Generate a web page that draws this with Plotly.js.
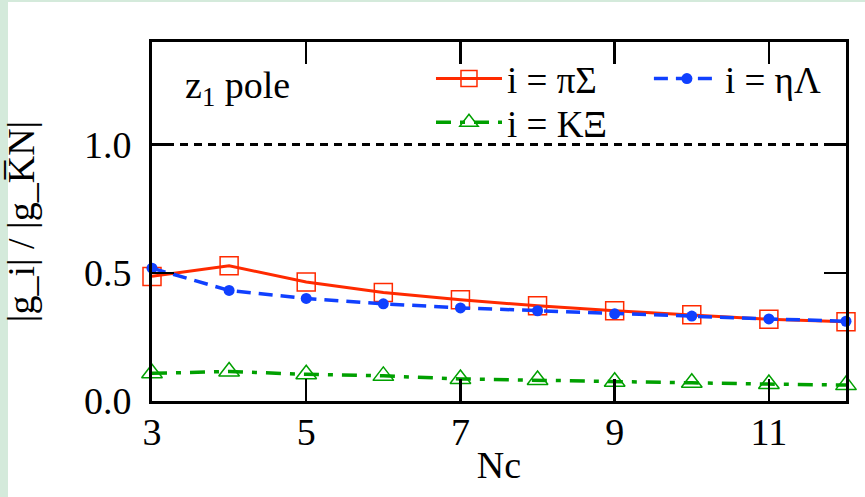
<!DOCTYPE html>
<html>
<head>
<meta charset="utf-8">
<script src="https://cdn.plot.ly/plotly-3.0.1.min.js"></script>
<style>
html,body{margin:0;padding:0;background:#ffffff;}
#stripL{position:absolute;left:0;top:0;width:8px;height:497px;background:#d4eadb;}
#stripT{position:absolute;left:0;top:0;width:865px;height:2px;background:#d4eadb;}
#chart{position:absolute;left:0;top:0;width:865px;height:497px;}
</style>
</head>
<body>
<div id="stripL"></div>
<div id="stripT"></div>
<div id="chart"></div>
<script>
// Data
const Nc = [3, 4, 5, 6, 7, 8, 9, 10, 11, 12];
const piSigma = [0.486, 0.527, 0.464, 0.423, 0.395, 0.371, 0.352, 0.336, 0.319, 0.309];
const etaLambda = [0.518, 0.431, 0.400, 0.379, 0.363, 0.352, 0.340, 0.331, 0.320, 0.311];
const KXi = [0.108, 0.115, 0.104, 0.098, 0.086, 0.082, 0.075, 0.071, 0.066, 0.062];
const xTickVals = [3, 5, 7, 9, 11];
const yTickVals = [0.0, 0.5, 1.0];
const refLevel = 1.0;
const names = ['i = πΣ', 'i = ηΛ', 'i = KΞ'];

const FONT = '"Liberation Serif", "Times New Roman", Times, serif';

const traces = [
  {
    x: Nc, y: piSigma, name: names[0], mode: 'lines+markers', legend: 'legend',
    line: {color: '#ff2a00', width: 3},
    marker: {symbol: 'square-open', size: 18, color: '#ff2a00', line: {width: 1.5}},
    cliponaxis: false
  },
  {
    x: Nc, y: etaLambda, name: names[1], mode: 'lines+markers', legend: 'legend2',
    line: {color: '#1040ff', width: 3.5, dash: '14px,8px'},
    marker: {symbol: 'circle', size: 11, color: '#1040ff'},
    cliponaxis: false
  },
  {
    x: Nc, y: KXi, name: names[2], mode: 'lines+markers', legend: 'legend3',
    line: {color: '#00a000', width: 3.5, dash: '15px,9px,5px,9px'},
    marker: {symbol: 'triangle-up-open', size: 18, color: '#00a000', line: {width: 1.5}},
    cliponaxis: false
  }
];

const legendBase = {
  bgcolor: 'rgba(0,0,0,0)', borderwidth: 0,
  font: {family: FONT, size: 37, color: '#000'},
  itemwidth: 66, xanchor: 'left', yanchor: 'middle'
};

const layout = {
  width: 865, height: 497,
  margin: {l: 152, r: 19, t: 42, b: 96, pad: 0},
  paper_bgcolor: 'rgba(0,0,0,0)',
  plot_bgcolor: '#ffffff',
  font: {family: FONT, size: 38, color: '#000'},
  showlegend: true,
  legend: Object.assign({}, legendBase, {x: 0.402, y: 0.897}),
  legend2: Object.assign({}, legendBase, {x: 0.716, y: 0.897}),
  legend3: Object.assign({}, legendBase, {x: 0.402, y: 0.775}),
  xaxis: {
    range: [3, 12], tickvals: xTickVals, ticktext: xTickVals.map(String),
    ticks: 'inside', ticklen: 22, tickwidth: 2.5, tickcolor: '#000',
    showline: true, linewidth: 3, linecolor: '#000', mirror: 'ticks',
    showgrid: false, zeroline: false,
    ticklabelstandoff: -5,
    tickfont: {family: FONT, size: 38, color: '#000'},
    title: {text: 'Nc', standoff: 0, font: {family: FONT, size: 38, color: '#000'}}
  },
  yaxis: {
    range: [0, 1.4], tickvals: yTickVals, tickformat: '.1f',
    ticks: 'inside', ticklen: 22, tickwidth: 2.5, tickcolor: '#000',
    showline: true, linewidth: 3, linecolor: '#000', mirror: 'ticks',
    showgrid: false, zeroline: false,
    ticklabelstandoff: 10,
    tickfont: {family: FONT, size: 38, color: '#000'},
    title: {text: '|g_i| / |g_K\u0305N|', standoff: 44, font: {family: FONT, size: 38, color: '#000'}}
  },
  shapes: [{
    type: 'line', xref: 'paper', x0: 0, x1: 1, yref: 'y', y0: refLevel, y1: refLevel,
    line: {color: '#000', width: 3, dash: '8px,6px'}, layer: 'below'
  }],
  annotations: [{
    xref: 'paper', yref: 'paper', x: 0.045, y: 0.872, xanchor: 'left', yanchor: 'middle',
    showarrow: false, text: 'z<sub>1</sub> pole',
    font: {family: FONT, size: 38, color: '#000'}
  }]
};

Plotly.newPlot('chart', traces, layout, {displayModeBar: false, staticPlot: true});
</script>
</body>
</html>
